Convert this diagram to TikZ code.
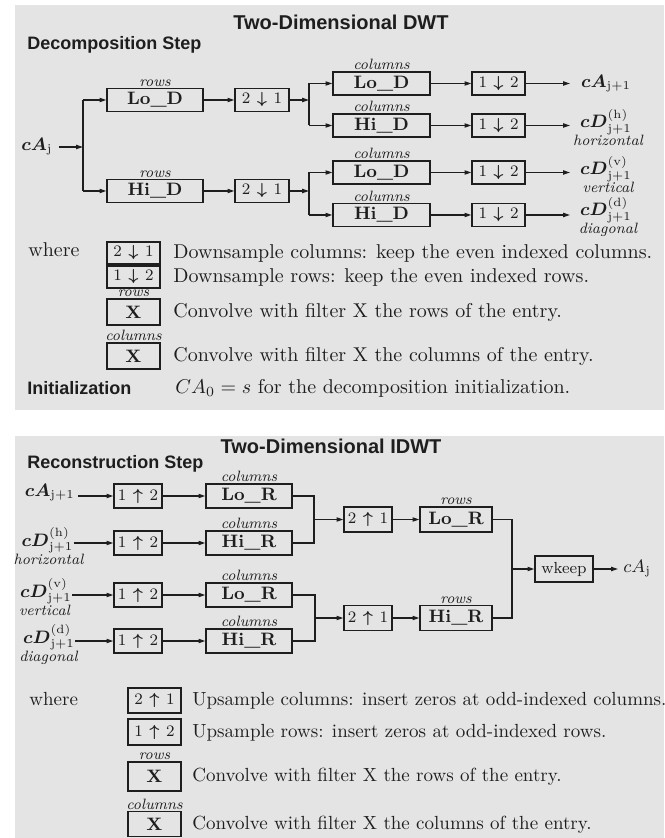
\documentclass[tikz,border=0pt]{standalone}
\usepackage{amsmath}
\usepackage{fontspec}
\newfontfamily\helv{Liberation Sans}
\usetikzlibrary{arrows.meta}
\definecolor{panel}{RGB}{228,228,228}
\definecolor{ink}{RGB}{30,30,30}
\newcommand{\dnarr}[2]{$#1\mkern7mu{\boldsymbol{\downarrow}}\mkern7mu#2$}
\newcommand{\uparr}[2]{$#1\mkern7mu$\rotatebox[origin=c]{180}{$\boldsymbol{\downarrow}$}$\mkern7mu#2$}
\begin{document}
\begin{tikzpicture}[x=0.5pt,y=-0.5pt,color=ink,
  box/.style={draw=ink,line width=0.65pt,inner sep=0pt,minimum height=11.5pt},
  arr/.style={draw=ink,line width=0.6pt,-{Triangle[length=3.4pt,width=2.1pt]}},
  ln/.style={draw=ink,line width=0.6pt},
  lbl/.style={font=\fontsize{7.5}{8}\selectfont\itshape,inner sep=0.6pt,anchor=south},
  wordlbl/.style={font=\fontsize{7.5}{8}\selectfont\itshape,inner sep=0pt,anchor=base},
  leg/.style={anchor=west,inner sep=0pt,text height=1.6ex,text depth=.4ex},
  legb/.style={leg,font=\fontsize{9.5}{11}\selectfont},
  head/.style={font=\helv\bfseries\fontsize{10}{12}\selectfont,inner sep=0pt},
  stephd/.style={font=\helv\bfseries\fontsize{9}{11}\selectfont,inner sep=0pt,anchor=west},
  fbox/.style={box,minimum width=48pt,font=\small\bfseries},
  sbox/.style={box,font=\footnotesize},
  mth/.style={font=\small,inner sep=0pt}]
\fill[white] (0,0) rectangle (664,838);
\fill[panel] (15,5) rectangle (664,410);
\fill[panel] (15,436) rectangle (664,838);
\useasboundingbox (0,0) rectangle (664,838);

% ================= TOP PANEL =================
\node[head] (T1) at (341,22) {Two-Dimensional DWT};
\node[stephd] (S1) at (27,45) {Decomposition Step};

\node[mth,anchor=west] (cAj) at (21,147) {$\boldsymbol{cA}_{\mathrm{j}}$};
\coordinate (s1) at (83,147);
\coordinate (s1t) at (83,100);
\coordinate (s1b) at (83,191);
\draw[arr,shorten <=3pt] (cAj.east) -- (s1);
\draw[ln] (s1t) -- (s1b);

\node[fbox] (rLo) at (155,100) {Lo\_D};
\node[lbl] (rLoL) at (rLo.north) {rows};
\node[fbox] (rHi) at (155,191) {Hi\_D};
\node[lbl] (rHiL) at (rHi.north) {rows};
\draw[arr] (s1t) -- (rLo);
\draw[arr] (s1b) -- (rHi);

\node[sbox,minimum width=27pt] (d1) at (262,100) {\dnarr{2}{1}};
\node[sbox,minimum width=27pt] (d2) at (262,191) {\dnarr{2}{1}};
\draw[arr] (rLo) -- (d1);
\draw[arr] (rHi) -- (d2);

\coordinate (j1m) at (309,100);
\coordinate (j1t) at (309,83.5);
\coordinate (j1b) at (309,125.5);
\coordinate (j2m) at (309,191);
\coordinate (j2t) at (309,172.5);
\coordinate (j2b) at (309,215);
\draw[arr] (d1) -- (j1m);
\draw[arr] (d2) -- (j2m);
\draw[ln] (j1t) -- (j1b);
\draw[ln] (j2t) -- (j2b);

\node[fbox,minimum width=48.5pt] (c1) at (381.5,83.5) {Lo\_D};
\node[fbox,minimum width=48.5pt] (c2) at (381.5,125.5) {Hi\_D};
\node[fbox,minimum width=48.5pt] (c3) at (381.5,172.5) {Lo\_D};
\node[fbox,minimum width=48.5pt] (c4) at (381.5,215) {Hi\_D};
\node[lbl] (c1L) at (c1.north) {columns};
\node[lbl] (c2L) at (c2.north) {columns};
\node[lbl] (c3L) at (c3.north) {columns};
\node[lbl] (c4L) at (c4.north) {columns};
\draw[arr] (j1t) -- (c1);
\draw[arr] (j1b) -- (c2);
\draw[arr] (j2t) -- (c3);
\draw[arr] (j2b) -- (c4);

\node[sbox,minimum width=26.5pt] (e1) at (498.5,83.5) {\dnarr{1}{2}};
\node[sbox,minimum width=26.5pt] (e2) at (498.5,125.5) {\dnarr{1}{2}};
\node[sbox,minimum width=26.5pt] (e3) at (498.5,172.5) {\dnarr{1}{2}};
\node[sbox,minimum width=26.5pt] (e4) at (498.5,215) {\dnarr{1}{2}};
\draw[arr] (c1) -- (e1);
\draw[arr] (c2) -- (e2);
\draw[arr] (c3) -- (e3);
\draw[arr] (c4) -- (e4);

\coordinate (o1) at (570,83.5);
\coordinate (o2) at (570,125.5);
\coordinate (o3) at (570,172.5);
\coordinate (o4) at (570,215);
\draw[arr] (e1) -- (o1);
\draw[arr] (e2) -- (o2);
\draw[arr] (e3) -- (o3);
\draw[arr] (e4) -- (o4);

\node[mth,anchor=base] (t1) at (606,88) {$\boldsymbol{cA}_{\mathrm{j+1}}$};
\node[mth,anchor=base] (t2) at (606,128) {$\boldsymbol{cD}^{(\mathrm{h})}_{\mathrm{j+1}}$};
\node[wordlbl] (t2w) at (608,146) {horizontal};
\node[mth,anchor=base] (t3) at (606,175) {$\boldsymbol{cD}^{(\mathrm{v})}_{\mathrm{j+1}}$};
\node[wordlbl] (t3w) at (608,193) {vertical};
\node[mth,anchor=base] (t4) at (606,216) {$\boldsymbol{cD}^{(\mathrm{d})}_{\mathrm{j+1}}$};
\node[wordlbl] (t4w) at (608,234) {diagonal};

% legend top
\node[anchor=base west,inner sep=0pt] (W1) at (28,257) {where};
\node[sbox,minimum width=26.5pt,minimum height=11pt] (L1) at (133.5,253) {\dnarr{2}{1}};
\node[leg] (L1t) at (173,253) {Downsample columns: keep the even indexed columns.};
\node[sbox,minimum width=26.5pt,minimum height=11pt] (L2) at (133.5,277) {\dnarr{1}{2}};
\node[leg] (L2t) at (173,277) {Downsample rows: keep the even indexed rows.};
\node[box,minimum width=26.5pt,minimum height=13pt,font=\small\bfseries] (L3) at (133.5,312) {X};
\node[lbl] (L3L) at (L3.north) {rows};
\node[leg] (L3t) at (173,312) {Convolve with filter X the rows of the entry.};
\node[box,minimum width=26.5pt,minimum height=13pt,font=\small\bfseries] (L4) at (133.5,356) {X};
\node[lbl] (L4L) at (L4.north) {columns};
\node[leg] (L4t) at (173,356) {Convolve with filter X the columns of the entry.};
\node[stephd] (I1) at (27,388) {Initialization};
\node[leg] (I1t) at (175,388) {$CA_0 = s$ for the decomposition initialization.};

% ================= BOTTOM PANEL =================
\node[head] (T2) at (331,446) {Two-Dimensional IDWT};
\node[stephd] (S2) at (27,464) {Reconstruction Step};

\node[mth,anchor=base east] (iA) at (75,496) {$\boldsymbol{cA}_{\mathrm{j+1}}$};
\node[mth,anchor=base] (iH) at (47.5,546) {$\boldsymbol{cD}^{(\mathrm{h})}_{\mathrm{j+1}}$};
\node[wordlbl] (iHw) at (48.5,564) {horizontal};
\node[mth,anchor=base] (iV) at (46,597) {$\boldsymbol{cD}^{(\mathrm{v})}_{\mathrm{j+1}}$};
\node[wordlbl] (iVw) at (44.5,615) {vertical};
\node[mth,anchor=base] (iD) at (49,643) {$\boldsymbol{cD}^{(\mathrm{d})}_{\mathrm{j+1}}$};
\node[wordlbl] (iDw) at (48.5,661) {diagonal};

\node[sbox,minimum width=24pt,minimum height=12pt] (u1) at (138,496) {\uparr{1}{2}};
\node[sbox,minimum width=24pt,minimum height=12pt] (u2) at (138,543) {\uparr{1}{2}};
\node[sbox,minimum width=24pt,minimum height=12pt] (u3) at (138,595) {\uparr{1}{2}};
\node[sbox,minimum width=24pt,minimum height=12pt] (u4) at (138,641) {\uparr{1}{2}};
\draw[arr,shorten <=1.5pt] (iA.base east) -- (u1.west);
\draw[arr] (iH.east |- u2.west) -- (u2.west);
\draw[arr] (iV.east |- u3.west) -- (u3.west);
\draw[arr] (iD.east |- u4.west) -- (u4.west);

\node[fbox,minimum width=43pt,minimum height=12pt] (k1) at (249,496) {Lo\_R};
\node[fbox,minimum width=43pt,minimum height=12pt] (k2) at (249,543) {Hi\_R};
\node[fbox,minimum width=43pt,minimum height=12pt] (k3) at (249,595) {Lo\_R};
\node[fbox,minimum width=43pt,minimum height=12pt] (k4) at (249,641) {Hi\_R};
\node[lbl] (k1L) at (k1.north) {columns};
\node[lbl] (k2L) at (k2.north) {columns};
\node[lbl] (k3L) at (k3.north) {columns};
\node[lbl] (k4L) at (k4.north) {columns};
\draw[arr] (u1) -- (k1);
\draw[arr] (u2) -- (k2);
\draw[arr] (u3) -- (k3);
\draw[arr] (u4) -- (k4);

\coordinate (ja1) at (314,496);
\coordinate (ja2) at (314,543);
\coordinate (jam) at (314,519.5);
\coordinate (jb1) at (315,595);
\coordinate (jb2) at (315,641);
\coordinate (jbm) at (315,618);
\draw[ln] (k1.east) -- (ja1) -- (ja2) -- (k2.east);
\draw[ln] (k3.east) -- (jb1) -- (jb2) -- (k4.east);

\node[sbox,minimum width=24pt,minimum height=12.5pt] (U1) at (368,519.5) {\uparr{2}{1}};
\node[sbox,minimum width=24pt,minimum height=12.5pt] (U2) at (368,618) {\uparr{2}{1}};
\draw[arr] (jam) -- (U1);
\draw[arr] (jbm) -- (U2);

\node[fbox,minimum width=36pt,minimum height=12.5pt] (R1) at (456,519.5) {Lo\_R};
\node[fbox,minimum width=36pt,minimum height=12.5pt] (R2) at (456,618) {Hi\_R};
\node[lbl] (R1L) at (R1.north) {rows};
\node[lbl] (R2L) at (R2.north) {rows};
\draw[arr] (U1) -- (R1);
\draw[arr] (U2) -- (R2);

\coordinate (m1) at (512,519.5);
\coordinate (m2) at (512,618);
\coordinate (mm) at (512,569);
\draw[ln] (R1.east) -- (m1) -- (m2) -- (R2.east);
\node[sbox,minimum width=29pt,minimum height=13pt] (wk) at (564,569) {wkeep};
\draw[arr] (mm) -- (wk);
\coordinate (oA) at (618,569);
\draw[arr] (wk) -- (oA);
\node[mth,anchor=west] (cAo) at (623,569) {$cA_{\mathrm{j}}$};

% legend bottom
\node[anchor=base west,inner sep=0pt,font=\fontsize{9.5}{11}\selectfont] (W2) at (29,705) {where};
\node[sbox,minimum width=26.5pt,minimum height=12.5pt] (B1) at (154.5,700.5) {\uparr{2}{1}};
\node[legb] (B1t) at (192,700.5) {Upsample columns: insert zeros at odd-indexed columns.};
\node[sbox,minimum width=26.5pt,minimum height=13pt] (B2) at (154.5,732) {\uparr{1}{2}};
\node[legb] (B2t) at (192,732) {Upsample rows: insert zeros at odd-indexed rows.};
\node[box,minimum width=26.5pt,minimum height=14.5pt,font=\small\bfseries] (B3) at (154.5,776.5) {X};
\node[lbl] (B3L) at (B3.north) {rows};
\node[legb] (B3t) at (192,776.5) {Convolve with filter X the rows of the entry.};
\node[box,minimum width=26.5pt,minimum height=12.5pt,font=\small\bfseries] (B4) at (154.5,824) {X};
\node[lbl] (B4L) at (B4.north) {columns};
\node[legb] (B4t) at (192,824) {Convolve with filter X the columns of the entry.};
\end{tikzpicture}
\end{document}
